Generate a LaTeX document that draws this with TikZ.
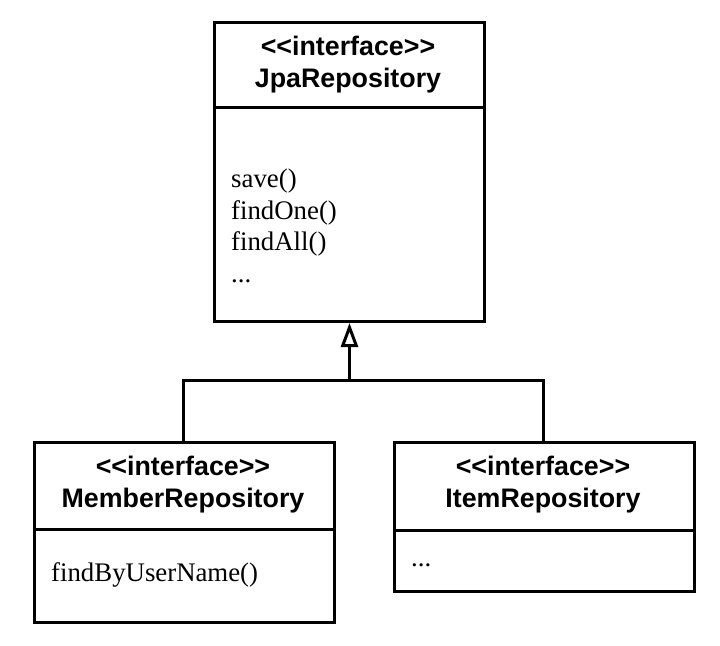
\documentclass[tikz,border=0pt]{standalone}
\usepackage{fontspec}
\setmainfont{Liberation Serif}
\newfontfamily\hdfont{Liberation Sans}
\usetikzlibrary{arrows.meta}
\begin{document}
\begin{tikzpicture}[x=1bp,y=-1bp,
  umlbox/.style={draw=black, line width=3bp, anchor=north west, inner sep=0pt},
  divider/.style={draw=black, line width=3bp},
  title/.style={align=center, inner sep=0pt, font=\hdfont\bfseries\fontsize{26.8bp}{32bp}\selectfont},
  methods/.style={align=left, anchor=base west, inner sep=0pt, font=\fontsize{26.8bp}{31.5bp}\selectfont},
  conn/.style={draw=black, line width=3bp},
  realize/.style={conn, -{Triangle[open, length=24bp, width=17bp, line width=3bp]}}]
\useasboundingbox (0,0) rectangle (720,646);
% boxes
\node[umlbox, minimum width=270bp, minimum height=299bp] (jpa) at (213,21) {};
\node[umlbox, minimum width=300bp, minimum height=180bp] (mem) at (33,441) {};
\node[umlbox, minimum width=300bp, minimum height=149bp] (item) at (393,441) {};
% dividers
\draw[divider] (jpa.west |- 0,108) -- (jpa.east |- 0,108);
\draw[divider] (mem.west |- 0,529) -- (mem.east |- 0,529);
\draw[divider] (item.west |- 0,530) -- (item.east |- 0,530);
% titles
\node[title] (jpat) at (348,65) {<\kern0pt<interface>\kern0pt>\\JpaRepository};
\node[title] (memt) at (183,485) {<\kern0pt<interface>\kern0pt>\\MemberRepository};
\node[title] (itemt) at (543,485) {<\kern0pt<interface>\kern0pt>\\ItemRepository};
% methods (base anchor = last line)
\node[methods] (jpam) at (231,282) {save()\\findOne()\\findAll()\\...};
\node[methods] (memm) at (51,581) {findByUserName()};
\node[methods] (itemm) at (411,566) {...};
% connectors
\coordinate (junc) at (jpa.south |- 0,380);
\draw[conn] (mem.north -| 183,0) |- (junc) -| (item.north -| 543,0);
\draw[realize] (junc) -- (jpa.south);
\end{tikzpicture}
\end{document}
